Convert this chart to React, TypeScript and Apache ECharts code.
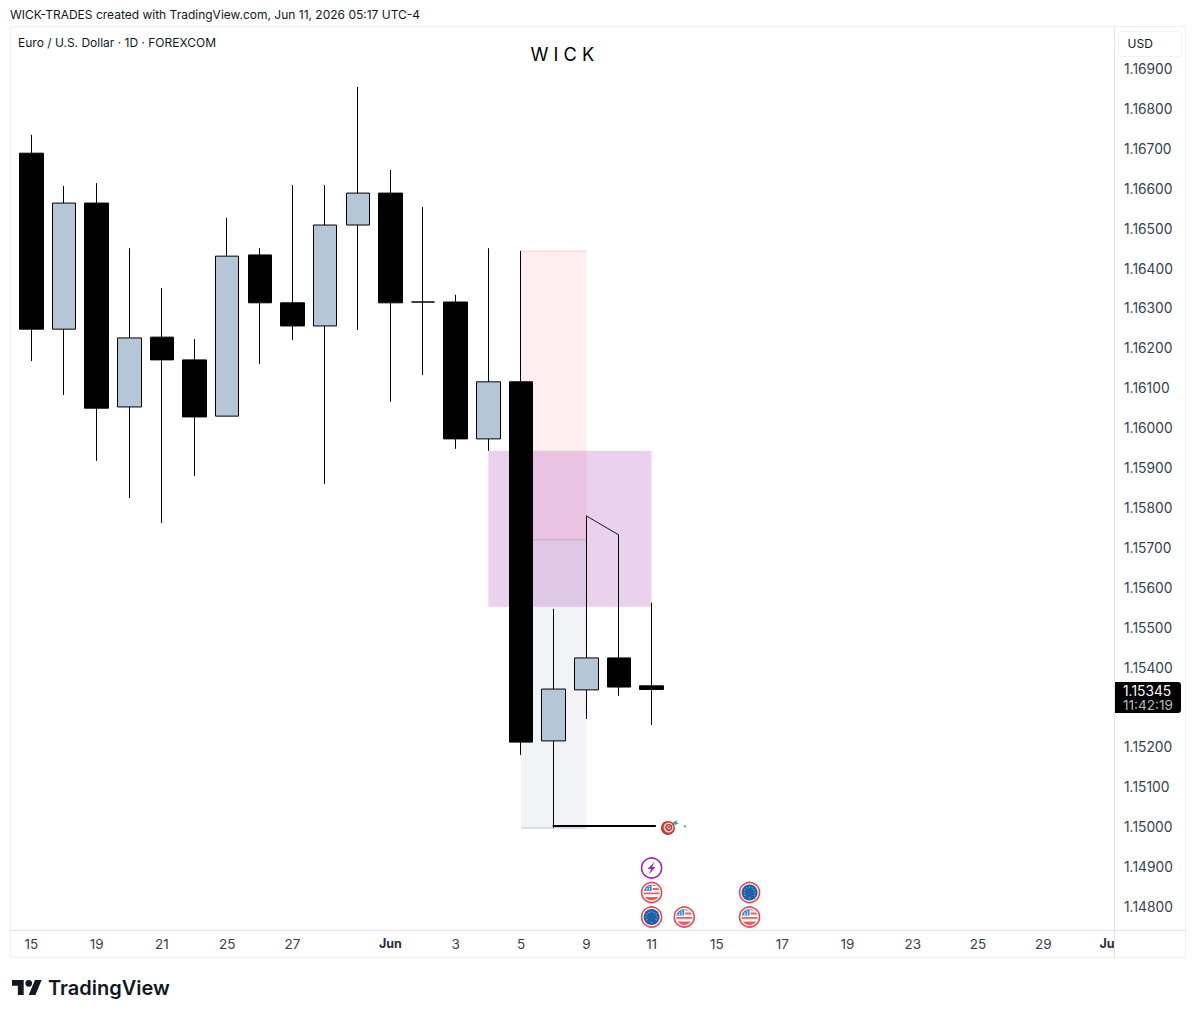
import React, { useEffect, useRef } from "react";
import * as echarts from "echarts";

// ---------- data ----------
const categories = ["15","18","19","20","21","22","25","26","27","28","29","Jun","2","3","4","5","8","9","10","11","12","15","16","17","18","19","22","23","24","25","26","29","30","Jul"];
const shownLabelIndexes = [0,2,4,6,8,11,13,15,17,19,21,23,25,27,29,31,33];
const boldLabels = ["Jun","Jul"];
const yTicks = [1.169,1.168,1.167,1.166,1.165,1.164,1.163,1.162,1.161,1.16,1.159,1.158,1.157,1.156,1.155,1.154,1.152,1.151,1.15,1.149,1.148];
const opens  = [1.16689,1.16248,1.16564,1.16053,1.16228,1.16171,1.16030,1.16434,1.16314,1.16256,1.16509,1.16589,1.16316,1.16316,1.15973,1.16116,1.15216,1.15344,1.15424,1.15354];
const closes = [1.16248,1.16564,1.16050,1.16226,1.16171,1.16028,1.16431,1.16314,1.16256,1.16509,1.16589,1.16314,1.16316,1.15973,1.16116,1.15213,1.15346,1.15424,1.15351,1.15345];
const lows   = [1.16168,1.16083,1.15918,1.15825,1.15762,1.15880,1.16030,1.16161,1.16221,1.15860,1.16246,1.16066,1.16133,1.15948,1.15943,1.15181,1.14998,1.15271,1.15329,1.15256];
const highs  = [1.16735,1.16607,1.16614,1.16451,1.16351,1.16223,1.16527,1.16451,1.16609,1.16609,1.16855,1.16647,1.16554,1.16334,1.16451,1.16444,1.15547,1.15780,1.15732,1.15562];
// [first category, last category, upper price, lower price]
const pinkZone = [15, 17, 1.16444, 1.1572];
const grayZone = [15, 17, 1.1572, 1.14998];
const purpleZone = [14, 19, 1.15943, 1.15552];
const trendLine = [[17, 1.1578], [18, 1.15732]];
const targetLine = [[16, 1.15003, 19]];
// [category, stack level, kind: 0 EU, 1 US, 2 bolt]
const eventRows = [[19,0,0],[19,1,1],[19,2,2],[20,0,1],[22,0,1],[22,1,0]];
const lastPrice = "1.15345";
const countdown = "11:42:19";

const Y_MIN = 1.147421;
const Y_MAX = 1.170053;

const FONT = "Inter, 'Noto Sans', sans-serif";
const UP_FILL = "#b5c7d6";
const INK = "#000000";

const US_CANTON = "M0,-8 A8,8 0 0,0 -7.85,-1.5 L0,-1.5 Z";
const US_STRIPES = "M1,-7.9 A8,8 0 0,1 4.8,-6.4 L1,-6.4 Z M1,-4.6 L6.4,-4.6 A8,8 0 0,1 7.6,-2.6 L1,-2.6 Z M-7.95,0 L7.95,0 A8,8 0 0,1 7.8,1.8 L-7.8,1.8 A8,8 0 0,1 -7.95,0 Z M-6.7,4.4 L6.7,4.4 A8,8 0 0,1 -6.7,4.4 Z";
const TV_LOGO = "M14 22H7V11H0V4h14v18zM28 22h-8l7.5-18h8L28 22zM24 8a4 4 0 1 1-8 0a4 4 0 1 1 8 0z";
let shapesReady = false;
function registerShapes() {
  if (shapesReady) return;
  echarts.graphic.registerShape("usCanton", echarts.graphic.extendPath(US_CANTON, {}));
  echarts.graphic.registerShape("usStripes", echarts.graphic.extendPath(US_STRIPES, {}));
  echarts.graphic.registerShape("tvLogo", echarts.graphic.extendPath(TV_LOGO, {}));
  shapesReady = true;
}

function ring(r: number, stroke: string) {
  return { type: "circle", shape: { cx: 0, cy: 0, r }, style: { fill: "#ffffff", stroke, lineWidth: 1.6 } };
}

function iconChildren(kind: number): any[] {
  if (kind === 2) {
    return [
      ring(10, "#9c27b0"),
      { type: "polygon", shape: { points: [[3,-6.5],[-4,1],[-0.5,1],[-3,6.5],[4,-1],[0.5,-1]] }, style: { fill: "#9c27b0" } },
    ];
  }
  if (kind === 0) {
    const dots = [];
    for (let k = 0; k < 12; k++) {
      const a = (k * Math.PI) / 6;
      dots.push({ type: "circle", shape: { cx: 5.3 * Math.cos(a), cy: 5.3 * Math.sin(a), r: 0.65 }, style: { fill: "#7fb0c8" } });
    }
    return [
      ring(10, "#e8474f"),
      { type: "circle", shape: { cx: 0, cy: 0, r: 8 }, style: { fill: "#1f5fa8" } },
      ...dots,
    ];
  }
  const stars = [];
  for (const p of [[-4.5,-4],[-2.2,-4],[-2.5,-6],[-5,-2.6],[-2.2,-2.6]]) {
    stars.push({ type: "circle", shape: { cx: p[0], cy: p[1], r: 0.55 }, style: { fill: "#ffffff" } });
  }
  return [
    ring(10, "#e8474f"),
    { type: "usCanton", style: { fill: "#3b86d8" } },
    { type: "usStripes", style: { fill: "#ef5a5f" } },
    ...stars,
  ];
}

const zoneStyles = [
  { fill: "rgba(242,54,69,0.085)", top: "rgba(242,54,69,0.2)", bottom: "rgba(120,123,134,0.28)" },
  { fill: "rgba(110,125,150,0.09)", top: "rgba(0,0,0,0)", bottom: "rgba(120,123,134,0.4)" },
  { fill: "rgba(156,39,176,0.21)", top: "rgba(0,0,0,0)", bottom: "rgba(0,0,0,0)" },
];

function buildOption() {
  return {
    animation: false,
    backgroundColor: "#ffffff",
    textStyle: { fontFamily: FONT },
    grid: { left: 15, top: 27, width: 1110, height: 903 },
    xAxis: {
      type: "category",
      data: categories,
      boundaryGap: true,
      axisLine: { show: false },
      axisTick: { show: false },
      splitLine: { show: false },
      axisLabel: {
        interval: (i: number) => shownLabelIndexes.includes(i),
        margin: 7,
        fontFamily: FONT,
        fontSize: 13.5,
        color: "#3a3e49",
        formatter: (v: string) => (boldLabels.includes(v) ? `{b|${v}}` : v),
        rich: { b: { fontFamily: FONT, fontSize: 12.5, fontWeight: 700, color: "#2a2e39" } },
      },
    },
    yAxis: {
      type: "value",
      position: "right",
      min: Y_MIN,
      max: Y_MAX,
      scale: true,
      axisLine: { show: false },
      axisTick: { show: false },
      splitLine: { show: false },
      axisLabel: {
        customValues: yTicks,
        margin: -1,
        padding: [2, 0, 0, 0],
        fontFamily: FONT,
        fontSize: 13.8,
        color: "#3a3e49",
        formatter: (v: number) => v.toFixed(5),
      },
    },
    series: [
      {
        type: "custom",
        name: "Zones",
        z: 1,
        data: [pinkZone, grayZone, purpleZone],
        encode: { x: [0, 1], y: [2, 3] },
        renderItem: (params: any, api: any) => {
          const a = api.coord([api.value(0), api.value(2)]);
          const b = api.coord([api.value(1), api.value(3)]);
          const s = zoneStyles[params.dataIndex];
          return {
            type: "group",
            children: [
              { type: "rect", shape: { x: a[0], y: a[1], width: b[0] - a[0], height: b[1] - a[1] }, style: { fill: s.fill } },
              { type: "rect", shape: { x: a[0], y: a[1] - 0.5, width: b[0] - a[0], height: 1 }, style: { fill: s.top } },
              { type: "rect", shape: { x: a[0], y: b[1] - 0.5, width: b[0] - a[0], height: 1 }, style: { fill: s.bottom } },
            ],
          };
        },
      },
      {
        type: "candlestick",
        name: "EURUSD",
        z: 2,
        barWidth: 24,
        data: opens.map((o, i) => [o, closes[i], lows[i], highs[i]]),
        itemStyle: {
          color: UP_FILL,
          color0: INK,
          borderColor: INK,
          borderColor0: INK,
          borderColorDoji: INK,
          borderWidth: 1,
        },
      },
      {
        type: "line",
        name: "Trend",
        z: 3,
        data: trendLine,
        showSymbol: false,
        symbol: "none",
        lineStyle: { color: "#131722", width: 1 },
      },
      {
        type: "custom",
        name: "Target",
        z: 4,
        data: targetLine,
        encode: { x: 0, y: 1 },
        renderItem: (_p: any, api: any) => {
          const a = api.coord([api.value(0), api.value(1)]);
          const b = api.coord([api.value(2), api.value(1)]);
          const bw = api.size([1, 0])[0];
          const endX = b[0] + bw * 0.13;
          const ix = b[0] + bw * 0.5;
          return {
            type: "group",
            children: [
              { type: "line", shape: { x1: a[0] - 1, y1: a[1], x2: endX, y2: a[1] }, style: { stroke: INK, lineWidth: 2 } },
              { type: "circle", shape: { cx: ix, cy: a[1] + 2, r: 7 }, style: { fill: "#c23a34" } },
              { type: "circle", shape: { cx: ix + 0.6, cy: a[1] + 1.7, r: 5 }, style: { fill: "#f1d6c8" } },
              { type: "circle", shape: { cx: ix + 0.8, cy: a[1] + 1.5, r: 3.5 }, style: { fill: "#c23a34" } },
              { type: "circle", shape: { cx: ix + 1, cy: a[1] + 1.3, r: 2 }, style: { fill: "#f1d6c8" } },
              { type: "circle", shape: { cx: ix + 1, cy: a[1] + 1.3, r: 1 }, style: { fill: "#c23a34" } },
              { type: "line", shape: { x1: ix + 1, y1: a[1] + 1.3, x2: ix + 7, y2: a[1] - 2.5 }, style: { stroke: "#5b6b70", lineWidth: 1 } },
              { type: "polygon", shape: { points: [[ix + 5, a[1] - 3.5], [ix + 9, a[1] - 6], [ix + 8.5, a[1] - 3.5], [ix + 11, a[1] - 2.5], [ix + 7, a[1] - 1]] }, style: { fill: "#2aa79b" } },
              { type: "circle", shape: { cx: ix + 17, cy: a[1] + 0.5, r: 1 }, style: { fill: "#7a7f87" } },
            ],
          };
        },
      },
      {
        type: "custom",
        name: "Events",
        z: 5,
        clip: false,
        data: eventRows,
        encode: { x: 0 },
        renderItem: (_p: any, api: any) => {
          const base = api.coord([api.value(0), Y_MIN]);
          return {
            type: "group",
            x: base[0],
            y: base[1] - 13 - api.value(1) * 24.5,
            children: iconChildren(api.value(2)),
          };
        },
      },
    ],
    graphic: [
      // cover the right of the time scale so that its last label is cut at the price scale
      { type: "rect", z: 100, shape: { x: 1114.5, y: 931, width: 71, height: 26 }, style: { fill: "#ffffff" } },
      // frame
      { type: "rect", z: 101, shape: { x: 10.5, y: 26.5, width: 1175, height: 931 }, style: { fill: "none", stroke: "#eef0f4", lineWidth: 1 } },
      { type: "line", z: 102, shape: { x1: 10.5, y1: 930.5, x2: 1185.5, y2: 930.5 }, style: { stroke: "#e0e3eb", lineWidth: 1 } },
      { type: "line", z: 102, shape: { x1: 1114.5, y1: 27, x2: 1114.5, y2: 958 }, style: { stroke: "#e0e3eb", lineWidth: 1 } },
      // header texts
      { type: "text", z: 103, x: 10, y: 14.5, style: { text: "WICK-TRADES created with TradingView.com, Jun 11, 2026 05:17 UTC-4", font: `12px ${FONT}`, fill: "#131722", textVerticalAlign: "middle" } },
      { type: "text", z: 103, x: 18, y: 42.5, style: { text: "Euro / U.S. Dollar · 1D · FOREXCOM", font: `12px ${FONT}`, fill: "#131722", textVerticalAlign: "middle" } },
      { type: "text", z: 103, x: 530.5, y: 54, style: { text: "W I C K", font: `400 18.2px ${FONT}`, fill: "#000000", textVerticalAlign: "middle" } },
      // currency button
      { type: "rect", z: 103, shape: { x: 1118.5, y: 31.5, width: 63, height: 25, r: 3 }, style: { fill: "#ffffff", stroke: "#f0f3fa", lineWidth: 1 } },
      { type: "text", z: 104, x: 1127.5, y: 43.5, style: { text: "USD", font: `12px ${FONT}`, fill: "#131722", textVerticalAlign: "middle" } },
      // last price tag
      { type: "rect", z: 103, shape: { x: 1115, y: 682, width: 66, height: 31, r: [0, 3, 3, 0] }, style: { fill: "#000000" } },
      { type: "text", z: 104, x: 1123, y: 690.5, style: { text: lastPrice, font: `13.8px ${FONT}`, fill: "#ffffff", textVerticalAlign: "middle" } },
      { type: "text", z: 104, x: 1123, y: 705, style: { text: countdown, font: `13.6px ${FONT}`, fill: "#b8b8b8", textVerticalAlign: "middle" } },
      // footer logo
      { type: "tvLogo", z: 103, x: 12, y: 976.6, scaleX: 0.836, scaleY: 0.836, style: { fill: "#131722" } },
      { type: "text", z: 103, x: 48, y: 988, style: { text: "TradingView", font: `600 20px ${FONT}`, fill: "#131722", textVerticalAlign: "middle" } },
    ],
  };
}

export default function App() {
  const ref = useRef<HTMLDivElement>(null);
  useEffect(() => {
    if (!ref.current) return;
    registerShapes();
    const chart = echarts.init(ref.current, undefined, { renderer: "svg" });
    chart.setOption(buildOption() as any);
    return () => chart.dispose();
  }, []);
  return <div ref={ref} style={{ position: "absolute", left: 0, top: 0, width: 1196, height: 1018, background: "#ffffff" }} />;
}
